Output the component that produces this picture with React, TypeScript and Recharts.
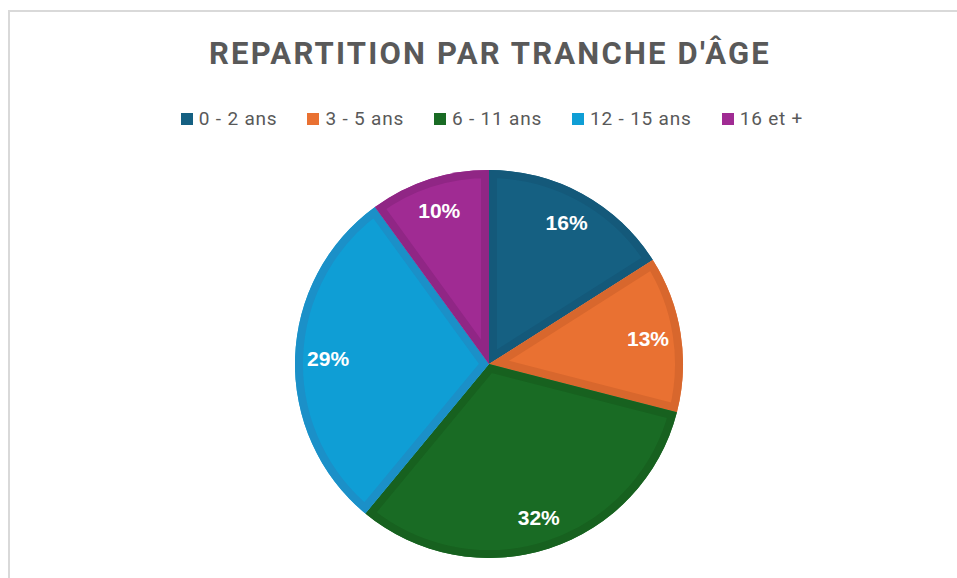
import { PieChart, Pie, Cell } from "recharts";

const CATEGORIES = ["0 - 2 ans", "3 - 5 ans", "6 - 11 ans", "12 - 15 ans", "16 et +"];
const SHARES = [16, 13, 32, 29, 10];
const COLORS = ["#156082", "#E97132", "#196B24", "#0F9ED5", "#A02B93"];
const BAND_COLORS = ["#14597a", "#d8672d", "#17611f", "#1b90c8", "#902685"];

const data = CATEGORIES.map((name, i) => ({ name, value: SHARES[i] }));

const RADIAN = Math.PI / 180;

function point(cx: number, cy: number, r: number, angle: number) {
  return { x: cx + Math.cos(-angle * RADIAN) * r, y: cy + Math.sin(-angle * RADIAN) * r };
}

// sector with an inner darker band, like Excel's slice style
function BandedSector(props: any) {
  const { cx, cy, outerRadius, startAngle, endAngle, index } = props;
  const a = point(cx, cy, outerRadius, startAngle);
  const b = point(cx, cy, outerRadius, endAngle);
  const large = Math.abs(endAngle - startAngle) > 180 ? 1 : 0;
  const sweep = endAngle < startAngle ? 1 : 0;
  const d = `M${cx},${cy} L${a.x},${a.y} A${outerRadius},${outerRadius} 0 ${large} ${sweep} ${b.x},${b.y} Z`;
  const id = `clip-slice-${index}`;
  return (
    <g>
      <defs>
        <clipPath id={id}>
          <path d={d} />
        </clipPath>
      </defs>
      <path d={d} fill={COLORS[index]} />
      <path d={d} fill="none" stroke={BAND_COLORS[index]} strokeWidth={16} clipPath={`url(#${id})`} />
    </g>
  );
}

function renderLabel(props: any) {
  const { cx, cy, midAngle, outerRadius, value } = props;
  const p = point(cx, cy, outerRadius - 33, midAngle);
  return (
    <text
      x={p.x}
      y={p.y}
      fill="#ffffff"
      textAnchor="middle"
      dominantBaseline="central"
      fontFamily="'Liberation Sans', Arial, sans-serif"
      fontWeight={700}
      fontSize={21}
    >
      {`${value}%`}
    </text>
  );
}

export default function App() {
  return (
    <div style={{ position: "absolute", left: 0, top: 0, width: 957, height: 578, overflow: "hidden", background: "#fff" }}>
      <div
        style={{
          position: "absolute",
          left: 8,
          top: 10,
          width: 1000,
          height: 1000,
          border: "2px solid #d9d9d9",
        }}
      />
      <div
        style={{
          position: "absolute",
          left: 0,
          top: 34,
          width: 980,
          textAlign: "center",
          fontFamily: "Roboto, sans-serif",
          fontWeight: 700,
          fontSize: 31,
          letterSpacing: 2.2,
          color: "#595959",
          lineHeight: "40px",
        }}
      >
        REPARTITION PAR TRANCHE D'ÂGE
      </div>
      <div
        style={{
          position: "absolute",
          left: 0,
          top: 106,
          width: 984,
          display: "flex",
          justifyContent: "center",
          gap: 30,
          fontFamily: "Roboto, sans-serif",
          fontSize: 19,
          letterSpacing: 0.8,
          color: "#595959",
          lineHeight: "26px",
        }}
      >
        {CATEGORIES.map((c, i) => (
          <div key={c} style={{ display: "flex", alignItems: "center" }}>
            <span style={{ width: 12, height: 12, background: COLORS[i], marginRight: 6, display: "inline-block" }} />
            <span>{c}</span>
          </div>
        ))}
      </div>
      <div style={{ position: "absolute", left: 0, top: 0 }}>
        <PieChart width={980} height={578} margin={{ top: 0, right: 0, bottom: 0, left: 0 }}>
          <Pie
            data={data}
            dataKey="value"
            nameKey="name"
            cx={489}
            cy={364}
            outerRadius={194}
            startAngle={90}
            endAngle={-270}
            stroke="none"
            shape={BandedSector}
            label={renderLabel}
            labelLine={false}
            isAnimationActive={false}
          >
            {data.map((d, i) => (
              <Cell key={d.name} fill={COLORS[i]} />
            ))}
          </Pie>
        </PieChart>
      </div>
    </div>
  );
}
